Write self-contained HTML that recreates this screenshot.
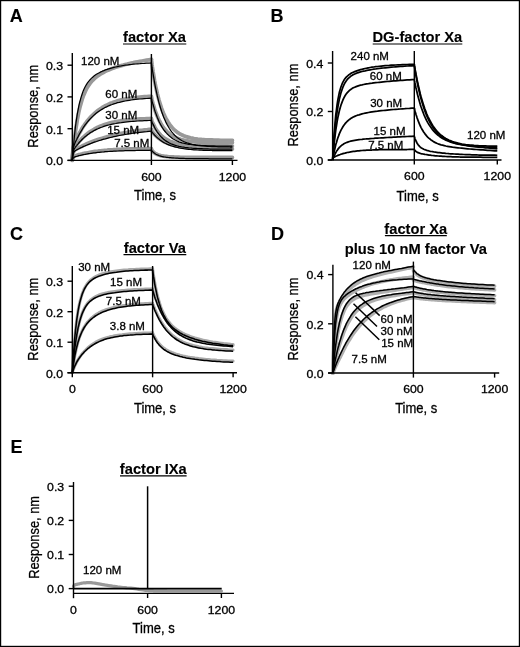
<!DOCTYPE html>
<html><head><meta charset="utf-8"><style>
html,body{margin:0;padding:0;background:#fff;}
svg{display:block;will-change:transform;}
text{font-family:"Liberation Sans", sans-serif;stroke:#000;stroke-width:0.3px;}
</style></head><body>
<svg width="520" height="647" viewBox="0 0 520 647" font-family='"Liberation Sans", sans-serif' fill="#000">
<rect x="0" y="0" width="520" height="647" fill="#fff"/>
<text x="9.8" y="21.8" font-size="18" font-weight="bold" style="stroke-width:0.12px">A</text>
<text x="154.5" y="41.5" font-size="14.7" font-weight="bold" style="stroke-width:0.12px" text-anchor="middle">factor Xa</text>
<line x1="123" y1="44" x2="186.3" y2="44" stroke="#000" stroke-width="1.2"/>
<path d="M72.3 160.4 72.3 159.8 72.5 158.5 72.7 156.4 72.9 153.9 73.2 150.8 73.6 147.4 74 143.8 74.4 139.9 74.9 135.8 75.4 131.7 76 127.6 76.7 123.6 77.3 119.6 78.1 115.7 78.8 112 79.6 108.5 80.5 105.1 81.4 102 82.3 99 83.2 96.3 84.3 93.7 85.3 91.4 86.4 89.2 87.5 87.2 88.7 85.3 89.9 83.6 91.1 82.1 92.4 80.6 93.7 79.3 95 78.1 96.4 76.9 97.8 75.8 99.3 74.8 100.8 73.9 102.3 73 103.8 72.2 105.4 71.4 107.1 70.6 108.7 69.9 110.4 69.2 112.2 68.5 113.9 67.9 115.7 67.3 117.6 66.7 119.4 66.1 121.3 65.6 123.3 65.1 125.2 64.5 127.2 64.1 129.3 63.6 131.3 63.1 133.4 62.7 135.6 62.2 137.7 61.8 139.9 61.4 142.2 61 144.4 60.6 146.7 60.2 149 59.8 151.4 59.4" fill="none" stroke="#999" stroke-width="3.8" stroke-linejoin="round" stroke-linecap="round"/>
<path d="M151.4 59.5 151.5 59.9 151.6 61 151.8 62.5 152 64.4 152.3 66.7 152.7 69.2 153.1 72 153.6 74.9 154.1 77.9 154.6 81 155.2 84.2 155.9 87.3 156.6 90.5 157.3 93.6 158.1 96.7 158.9 99.8 159.8 102.7 160.7 105.6 161.6 108.3 162.6 111 163.6 113.5 164.7 115.9 165.8 118.1 167 120.2 168.2 122.2 169.4 124.1 170.6 125.8 171.9 127.3 173.3 128.8 174.7 130.1 176.1 131.3 177.5 132.4 179 133.4 180.5 134.3 182.1 135 183.7 135.8 185.3 136.4 187 136.9 188.7 137.4 190.4 137.9 192.2 138.2 194 138.6 195.9 138.8 197.7 139.1 199.7 139.3 201.6 139.5 203.6 139.6 205.6 139.8 207.7 139.9 209.7 140 211.9 140 214 140.1 216.2 140.2 218.4 140.2 220.7 140.3 222.9 140.3 225.3 140.3 227.6 140.3 230 140.3 232.4 140.4" fill="none" stroke="#999" stroke-width="3.8" stroke-linejoin="round" stroke-linecap="round"/>
<path d="M72.3 159.4 72.3 158.2 72.5 155.6 72.7 152.6 72.9 149.9 73.2 147.8 73.6 146.2 74 144.8 74.4 143.6 74.9 142.4 75.4 141.1 76 139.8 76.7 138.5 77.3 137.1 78.1 135.6 78.8 134.2 79.6 132.7 80.5 131.2 81.4 129.6 82.3 128.1 83.2 126.6 84.3 125.1 85.3 123.6 86.4 122.2 87.5 120.7 88.7 119.3 89.9 117.9 91.1 116.6 92.4 115.3 93.7 114.1 95 112.9 96.4 111.7 97.8 110.6 99.3 109.5 100.8 108.5 102.3 107.5 103.8 106.6 105.4 105.7 107.1 104.9 108.7 104.1 110.4 103.3 112.2 102.7 113.9 102 115.7 101.5 117.6 100.9 119.4 100.4 121.3 99.9 123.3 99.5 125.2 99.1 127.2 98.8 129.3 98.4 131.3 98.1 133.4 97.8 135.6 97.6 137.7 97.3 139.9 97.1 142.2 96.9 144.4 96.7 146.7 96.6 149 96.4 151.4 96.3" fill="none" stroke="#999" stroke-width="3.8" stroke-linejoin="round" stroke-linecap="round"/>
<path d="M151.4 97.3 151.5 97.5 151.6 98 151.8 98.8 152 99.9 152.3 101.1 152.7 102.5 153.1 104 153.6 105.6 154.1 107.3 154.6 109.1 155.2 110.9 155.9 112.7 156.6 114.5 157.3 116.3 158.1 118.1 158.9 119.8 159.8 121.5 160.7 123.2 161.6 124.8 162.6 126.3 163.6 127.7 164.7 129.1 165.8 130.4 167 131.6 168.2 132.7 169.4 133.7 170.6 134.7 171.9 135.6 173.3 136.4 174.7 137.1 176.1 137.8 177.5 138.4 179 138.9 180.5 139.4 182.1 139.8 183.7 140.2 185.3 140.5 187 140.8 188.7 141.1 190.4 141.3 192.2 141.5 194 141.7 195.9 141.8 197.7 142 199.7 142.1 201.6 142.2 203.6 142.3 205.6 142.3 207.7 142.4 209.7 142.4 211.9 142.5 214 142.5 216.2 142.5 218.4 142.5 220.7 142.6 222.9 142.6 225.3 142.6 227.6 142.6 230 142.6 232.4 142.6" fill="none" stroke="#999" stroke-width="3.8" stroke-linejoin="round" stroke-linecap="round"/>
<path d="M72.3 159.4 72.3 158.5 72.5 156.4 72.7 154.1 72.9 152.1 73.2 150.6 73.6 149.5 74 148.6 74.4 147.8 74.9 147 75.4 146.3 76 145.5 76.7 144.6 77.3 143.7 78.1 142.9 78.8 141.9 79.6 141 80.5 140.1 81.4 139.1 82.3 138.2 83.2 137.3 84.3 136.3 85.3 135.4 86.4 134.5 87.5 133.6 88.7 132.7 89.9 131.9 91.1 131.1 92.4 130.3 93.7 129.5 95 128.7 96.4 128 97.8 127.3 99.3 126.6 100.8 126 102.3 125.4 103.8 124.8 105.4 124.3 107.1 123.8 108.7 123.3 110.4 122.8 112.2 122.4 113.9 122 115.7 121.6 117.6 121.3 119.4 121 121.3 120.7 123.3 120.4 125.2 120.2 127.2 120 129.3 119.8 131.3 119.6 133.4 119.4 135.6 119.3 137.7 119.1 139.9 119 142.2 118.9 144.4 118.8 146.7 118.7 149 118.6 151.4 118.5" fill="none" stroke="#999" stroke-width="3.8" stroke-linejoin="round" stroke-linecap="round"/>
<path d="M151.4 119.5 151.5 119.6 151.6 120 151.8 120.5 152 121.1 152.3 121.9 152.7 122.8 153.1 123.7 153.6 124.7 154.1 125.7 154.6 126.8 155.2 127.8 155.9 128.9 156.6 130 157.3 131 158.1 132 158.9 133 159.8 134 160.7 135 161.6 135.9 162.6 136.7 163.6 137.5 164.7 138.3 165.8 139 167 139.7 168.2 140.3 169.4 140.9 170.6 141.4 171.9 141.9 173.3 142.3 174.7 142.8 176.1 143.1 177.5 143.5 179 143.8 180.5 144 182.1 144.3 183.7 144.5 185.3 144.7 187 144.9 188.7 145 190.4 145.2 192.2 145.3 194 145.4 195.9 145.5 197.7 145.6 199.7 145.6 201.6 145.7 203.6 145.7 205.6 145.8 207.7 145.8 209.7 145.9 211.9 145.9 214 145.9 216.2 146 218.4 146 220.7 146 222.9 146 225.3 146 227.6 146 230 146.1 232.4 146.1" fill="none" stroke="#999" stroke-width="3.8" stroke-linejoin="round" stroke-linecap="round"/>
<path d="M72.3 159.4 72.3 158.8 72.5 157.5 72.7 155.8 72.9 154.3 73.2 152.9 73.6 151.9 74 151.1 74.4 150.5 74.9 150 75.4 149.6 76 149.3 76.7 148.9 77.3 148.5 78.1 148.1 78.8 147.7 79.6 147.3 80.5 146.9 81.4 146.5 82.3 146 83.2 145.6 84.3 145.1 85.3 144.6 86.4 144.1 87.5 143.6 88.7 143.1 89.9 142.6 91.1 142.1 92.4 141.6 93.7 141.1 95 140.6 96.4 140.1 97.8 139.6 99.3 139.1 100.8 138.7 102.3 138.2 103.8 137.7 105.4 137.2 107.1 136.7 108.7 136.3 110.4 135.8 112.2 135.4 113.9 135 115.7 134.5 117.6 134.2 119.4 133.8 121.3 133.4 123.3 133 125.2 132.7 127.2 132.4 129.3 132 131.3 131.7 133.4 131.4 135.6 131.1 137.7 130.8 139.9 130.5 142.2 130.3 144.4 130 146.7 129.8 149 129.5 151.4 129.3" fill="none" stroke="#999" stroke-width="3.8" stroke-linejoin="round" stroke-linecap="round"/>
<path d="M151.4 130.3 151.5 130.3 151.6 130.6 151.8 130.9 152 131.3 152.3 131.7 152.7 132.2 153.1 132.8 153.6 133.3 154.1 134 154.6 134.6 155.2 135.2 155.9 135.8 156.6 136.5 157.3 137.1 158.1 137.8 158.9 138.4 159.8 139 160.7 139.6 161.6 140.2 162.6 140.8 163.6 141.4 164.7 141.9 165.8 142.5 167 143 168.2 143.4 169.4 143.9 170.6 144.3 171.9 144.7 173.3 145.1 174.7 145.5 176.1 145.8 177.5 146.1 179 146.4 180.5 146.6 182.1 146.9 183.7 147.1 185.3 147.3 187 147.5 188.7 147.7 190.4 147.8 192.2 147.9 194 148.1 195.9 148.2 197.7 148.3 199.7 148.4 201.6 148.4 203.6 148.5 205.6 148.6 207.7 148.6 209.7 148.7 211.9 148.7 214 148.8 216.2 148.8 218.4 148.8 220.7 148.8 222.9 148.9 225.3 148.9 227.6 148.9 230 148.9 232.4 148.9" fill="none" stroke="#999" stroke-width="3.8" stroke-linejoin="round" stroke-linecap="round"/>
<path d="M72.3 159.4 72.3 159.2 72.5 158.7 72.7 158.2 72.9 157.6 73.2 157.1 73.6 156.7 74 156.4 74.4 156.1 74.9 155.9 75.4 155.7 76 155.5 76.7 155.3 77.3 155.2 78.1 154.9 78.8 154.7 79.6 154.5 80.5 154.3 81.4 154.1 82.3 153.9 83.2 153.6 84.3 153.4 85.3 153.2 86.4 153 87.5 152.8 88.7 152.6 89.9 152.3 91.1 152.1 92.4 151.9 93.7 151.7 95 151.5 96.4 151.3 97.8 151.2 99.3 151 100.8 150.8 102.3 150.6 103.8 150.5 105.4 150.3 107.1 150.2 108.7 150 110.4 149.9 112.2 149.8 113.9 149.7 115.7 149.6 117.6 149.5 119.4 149.4 121.3 149.3 123.3 149.2 125.2 149.2 127.2 149.1 129.3 149 131.3 149 133.4 148.9 135.6 148.9 137.7 148.9 139.9 148.8 142.2 148.8 144.4 148.7 146.7 148.7 149 148.7 151.4 148.7" fill="none" stroke="#999" stroke-width="3.8" stroke-linejoin="round" stroke-linecap="round"/>
<path d="M151.4 149.6 151.5 149.7 151.6 149.9 151.8 150.1 152 150.5 152.3 150.9 152.7 151.3 153.1 151.7 153.6 152.1 154.1 152.6 154.6 153 155.2 153.4 155.9 153.8 156.6 154.1 157.3 154.5 158.1 154.8 158.9 155.1 159.8 155.3 160.7 155.6 161.6 155.8 162.6 156 163.6 156.1 164.7 156.3 165.8 156.4 167 156.5 168.2 156.7 169.4 156.8 170.6 156.8 171.9 156.9 173.3 157 174.7 157.1 176.1 157.1 177.5 157.2 179 157.2 180.5 157.3 182.1 157.3 183.7 157.3 185.3 157.4 187 157.4 188.7 157.4 190.4 157.4 192.2 157.4 194 157.5 195.9 157.5 197.7 157.5 199.7 157.5 201.6 157.5 203.6 157.5 205.6 157.5 207.7 157.5 209.7 157.5 211.9 157.5 214 157.5 216.2 157.5 218.4 157.5 220.7 157.5 222.9 157.5 225.3 157.5 227.6 157.5 230 157.5 232.4 157.5" fill="none" stroke="#999" stroke-width="3.8" stroke-linejoin="round" stroke-linecap="round"/>
<path d="M72.3 160.4 72.3 159.7 72.5 158.1 72.7 155.6 72.9 152.5 73.2 148.9 73.6 144.9 74 140.6 74.4 136.1 74.9 131.6 75.4 127 76 122.5 76.7 118.1 77.3 113.9 78.1 109.9 78.8 106.1 79.6 102.5 80.5 99.3 81.4 96.2 82.3 93.5 83.2 90.9 84.3 88.6 85.3 86.5 86.4 84.6 87.5 82.9 88.7 81.3 89.9 79.9 91.1 78.6 92.4 77.4 93.7 76.3 95 75.3 96.4 74.3 97.8 73.5 99.3 72.7 100.8 71.9 102.3 71.2 103.8 70.6 105.4 69.9 107.1 69.4 108.7 68.8 110.4 68.3 112.2 67.8 113.9 67.4 115.7 67 117.6 66.6 119.4 66.2 121.3 65.9 123.3 65.5 125.2 65.2 127.2 65 129.3 64.7 131.3 64.5 133.4 64.2 135.6 64 137.7 63.8 139.9 63.7 142.2 63.5 144.4 63.4 146.7 63.2 149 63.1 151.4 63" fill="none" stroke="#000" stroke-width="1.25" stroke-linejoin="round"/>
<path d="M151.4 63 151.5 63.3 151.6 64.2 151.8 65.5 152 67.2 152.3 69.3 152.7 71.6 153.1 74.1 153.6 76.9 154.1 79.9 154.6 82.9 155.2 86.1 155.9 89.3 156.6 92.6 157.3 95.9 158.1 99.1 158.9 102.3 159.8 105.5 160.7 108.5 161.6 111.5 162.6 114.3 163.6 117 164.7 119.6 165.8 122.1 167 124.4 168.2 126.5 169.4 128.5 170.6 130.4 171.9 132.1 173.3 133.7 174.7 135.2 176.1 136.5 177.5 137.7 179 138.8 180.5 139.8 182.1 140.7 183.7 141.5 185.3 142.2 187 142.9 188.7 143.4 190.4 143.9 192.2 144.4 194 144.7 195.9 145.1 197.7 145.4 199.7 145.6 201.6 145.8 203.6 146 205.6 146.2 207.7 146.3 209.7 146.5 211.9 146.6 214 146.6 216.2 146.7 218.4 146.8 220.7 146.8 222.9 146.9 225.3 146.9 227.6 146.9 230 147 232.4 147" fill="none" stroke="#000" stroke-width="1.25" stroke-linejoin="round"/>
<path d="M72.3 160.4 72.3 159.1 72.5 156.5 72.7 153.5 72.9 150.9 73.2 148.8 73.6 147.2 74 145.8 74.4 144.6 74.9 143.3 75.4 142.1 76 140.8 76.7 139.5 77.3 138.1 78.1 136.6 78.8 135.2 79.6 133.7 80.5 132.2 81.4 130.7 82.3 129.2 83.2 127.7 84.3 126.2 85.3 124.7 86.4 123.3 87.5 121.9 88.7 120.5 89.9 119.2 91.1 117.9 92.4 116.6 93.7 115.4 95 114.2 96.4 113.1 97.8 112 99.3 111 100.8 110 102.3 109.1 103.8 108.2 105.4 107.3 107.1 106.6 108.7 105.8 110.4 105.1 112.2 104.5 113.9 103.8 115.7 103.3 117.6 102.7 119.4 102.3 121.3 101.8 123.3 101.4 125.2 101 127.2 100.6 129.3 100.3 131.3 100 133.4 99.7 135.6 99.4 137.7 99.2 139.9 99 142.2 98.8 144.4 98.6 146.7 98.5 149 98.3 151.4 98.2" fill="none" stroke="#000" stroke-width="1.25" stroke-linejoin="round"/>
<path d="M151.4 98.2 151.5 98.4 151.6 98.9 151.8 99.7 152 100.7 152.3 101.9 152.7 103.3 153.1 104.8 153.6 106.4 154.1 108.1 154.6 109.9 155.2 111.7 155.9 113.6 156.6 115.5 157.3 117.4 158.1 119.3 158.9 121.2 159.8 123 160.7 124.7 161.6 126.4 162.6 128 163.6 129.6 164.7 131 165.8 132.4 167 133.7 168.2 134.9 169.4 136.1 170.6 137.1 171.9 138.1 173.3 139 174.7 139.8 176.1 140.5 177.5 141.2 179 141.8 180.5 142.3 182.1 142.8 183.7 143.2 185.3 143.6 187 144 188.7 144.3 190.4 144.5 192.2 144.7 194 144.9 195.9 145.1 197.7 145.3 199.7 145.4 201.6 145.5 203.6 145.6 205.6 145.7 207.7 145.8 209.7 145.8 211.9 145.9 214 145.9 216.2 146 218.4 146 220.7 146 222.9 146 225.3 146 227.6 146.1 230 146.1 232.4 146.1" fill="none" stroke="#000" stroke-width="1.25" stroke-linejoin="round"/>
<path d="M72.3 160.4 72.3 159.4 72.5 157.3 72.7 155.1 72.9 153.1 73.2 151.6 73.6 150.4 74 149.5 74.4 148.8 74.9 148 75.4 147.2 76 146.4 76.7 145.6 77.3 144.7 78.1 143.9 78.8 143 79.6 142 80.5 141.1 81.4 140.2 82.3 139.3 83.2 138.4 84.3 137.4 85.3 136.5 86.4 135.7 87.5 134.8 88.7 134 89.9 133.1 91.1 132.3 92.4 131.6 93.7 130.8 95 130.1 96.4 129.4 97.8 128.8 99.3 128.1 100.8 127.5 102.3 127 103.8 126.4 105.4 125.9 107.1 125.4 108.7 125 110.4 124.6 112.2 124.2 113.9 123.8 115.7 123.5 117.6 123.1 119.4 122.8 121.3 122.6 123.3 122.3 125.2 122.1 127.2 121.9 129.3 121.7 131.3 121.5 133.4 121.3 135.6 121.2 137.7 121 139.9 120.9 142.2 120.8 144.4 120.7 146.7 120.6 149 120.5 151.4 120.4" fill="none" stroke="#000" stroke-width="1.25" stroke-linejoin="round"/>
<path d="M151.4 120.4 151.5 120.5 151.6 120.9 151.8 121.3 152 121.9 152.3 122.7 152.7 123.5 153.1 124.4 153.6 125.4 154.1 126.4 154.6 127.5 155.2 128.6 155.9 129.8 156.6 130.9 157.3 132 158.1 133.1 158.9 134.2 159.8 135.3 160.7 136.4 161.6 137.3 162.6 138.3 163.6 139.2 164.7 140.1 165.8 140.9 167 141.6 168.2 142.3 169.4 143 170.6 143.6 171.9 144.2 173.3 144.7 174.7 145.2 176.1 145.6 177.5 146 179 146.4 180.5 146.7 182.1 147 183.7 147.2 185.3 147.5 187 147.7 188.7 147.9 190.4 148 192.2 148.2 194 148.3 195.9 148.4 197.7 148.5 199.7 148.6 201.6 148.7 203.6 148.8 205.6 148.9 207.7 148.9 209.7 149 211.9 149 214 149 216.2 149.1 218.4 149.1 220.7 149.1 222.9 149.2 225.3 149.2 227.6 149.2 230 149.2 232.4 149.2" fill="none" stroke="#000" stroke-width="1.25" stroke-linejoin="round"/>
<path d="M72.3 160.4 72.3 159.8 72.5 158.4 72.7 156.8 72.9 155.2 73.2 153.9 73.6 152.8 74 152 74.4 151.5 74.9 151 75.4 150.6 76 150.3 76.7 149.9 77.3 149.5 78.1 149.2 78.8 148.8 79.6 148.4 80.5 147.9 81.4 147.5 82.3 147.1 83.2 146.6 84.3 146.2 85.3 145.7 86.4 145.3 87.5 144.8 88.7 144.3 89.9 143.8 91.1 143.4 92.4 142.9 93.7 142.4 95 141.9 96.4 141.5 97.8 141 99.3 140.5 100.8 140.1 102.3 139.6 103.8 139.2 105.4 138.8 107.1 138.3 108.7 137.9 110.4 137.5 112.2 137.1 113.9 136.7 115.7 136.3 117.6 135.9 119.4 135.5 121.3 135.2 123.3 134.8 125.2 134.5 127.2 134.2 129.3 133.8 131.3 133.5 133.4 133.2 135.6 132.9 137.7 132.7 139.9 132.4 142.2 132.1 144.4 131.9 146.7 131.7 149 131.4 151.4 131.2" fill="none" stroke="#000" stroke-width="1.25" stroke-linejoin="round"/>
<path d="M151.4 131.2 151.5 131.3 151.6 131.4 151.8 131.7 152 132 152.3 132.4 152.7 132.9 153.1 133.4 153.6 133.9 154.1 134.5 154.6 135.1 155.2 135.7 155.9 136.4 156.6 137.1 157.3 137.7 158.1 138.4 158.9 139.1 159.8 139.8 160.7 140.4 161.6 141.1 162.6 141.7 163.6 142.4 164.7 143 165.8 143.5 167 144.1 168.2 144.6 169.4 145.1 170.6 145.6 171.9 146 173.3 146.4 174.7 146.8 176.1 147.2 177.5 147.5 179 147.9 180.5 148.2 182.1 148.4 183.7 148.7 185.3 148.9 187 149.1 188.7 149.3 190.4 149.5 192.2 149.6 194 149.8 195.9 149.9 197.7 150 199.7 150.1 201.6 150.2 203.6 150.3 205.6 150.3 207.7 150.4 209.7 150.4 211.9 150.5 214 150.5 216.2 150.6 218.4 150.6 220.7 150.6 222.9 150.7 225.3 150.7 227.6 150.7 230 150.7 232.4 150.7" fill="none" stroke="#000" stroke-width="1.25" stroke-linejoin="round"/>
<path d="M72.3 160.4 72.3 160.2 72.5 159.7 72.7 159.1 72.9 158.5 73.2 158.1 73.6 157.7 74 157.4 74.4 157.1 74.9 156.9 75.4 156.7 76 156.5 76.7 156.3 77.3 156.1 78.1 155.9 78.8 155.7 79.6 155.5 80.5 155.3 81.4 155.1 82.3 154.9 83.2 154.7 84.3 154.5 85.3 154.3 86.4 154.1 87.5 153.9 88.7 153.7 89.9 153.5 91.1 153.3 92.4 153.1 93.7 152.9 95 152.8 96.4 152.6 97.8 152.4 99.3 152.3 100.8 152.1 102.3 152 103.8 151.9 105.4 151.7 107.1 151.6 108.7 151.5 110.4 151.4 112.2 151.3 113.9 151.2 115.7 151.1 117.6 151 119.4 150.9 121.3 150.9 123.3 150.8 125.2 150.7 127.2 150.7 129.3 150.6 131.3 150.6 133.4 150.5 135.6 150.5 137.7 150.4 139.9 150.4 142.2 150.4 144.4 150.3 146.7 150.3 149 150.3 151.4 150.2" fill="none" stroke="#000" stroke-width="1.25" stroke-linejoin="round"/>
<path d="M151.4 150.2 151.5 150.3 151.6 150.5 151.8 150.7 152 151 152.3 151.3 152.7 151.7 153.1 152.1 153.6 152.5 154.1 152.9 154.6 153.3 155.2 153.8 155.9 154.2 156.6 154.5 157.3 154.9 158.1 155.2 158.9 155.5 159.8 155.8 160.7 156.1 161.6 156.4 162.6 156.6 163.6 156.8 164.7 157 165.8 157.2 167 157.3 168.2 157.5 169.4 157.6 170.6 157.7 171.9 157.8 173.3 157.9 174.7 158 176.1 158.1 177.5 158.2 179 158.3 180.5 158.3 182.1 158.4 183.7 158.4 185.3 158.5 187 158.5 188.7 158.5 190.4 158.6 192.2 158.6 194 158.6 195.9 158.7 197.7 158.7 199.7 158.7 201.6 158.7 203.6 158.7 205.6 158.7 207.7 158.7 209.7 158.8 211.9 158.8 214 158.8 216.2 158.8 218.4 158.8 220.7 158.8 222.9 158.8 225.3 158.8 227.6 158.8 230 158.8 232.4 158.8" fill="none" stroke="#000" stroke-width="1.25" stroke-linejoin="round"/>
<line x1="151.4" y1="54" x2="151.4" y2="160.4" stroke="#000" stroke-width="1.4"/>
<line x1="72.3" y1="53" x2="72.3" y2="160.4" stroke="#000" stroke-width="1.4"/>
<line x1="67.5" y1="160.4" x2="72.3" y2="160.4" stroke="#000" stroke-width="1.4"/>
<text transform="translate(63 165.2) scale(1.09 1)" font-size="11.3" text-anchor="end">0.0</text>
<line x1="67.5" y1="128.7" x2="72.3" y2="128.7" stroke="#000" stroke-width="1.4"/>
<text transform="translate(63 133.5) scale(1.09 1)" font-size="11.3" text-anchor="end">0.1</text>
<line x1="67.5" y1="96.9" x2="72.3" y2="96.9" stroke="#000" stroke-width="1.4"/>
<text transform="translate(63 101.7) scale(1.09 1)" font-size="11.3" text-anchor="end">0.2</text>
<line x1="67.5" y1="65.2" x2="72.3" y2="65.2" stroke="#000" stroke-width="1.4"/>
<text transform="translate(63 70) scale(1.09 1)" font-size="11.3" text-anchor="end">0.3</text>
<line x1="67.5" y1="160.4" x2="237.5" y2="160.4" stroke="#000" stroke-width="1.4"/>
<line x1="151.4" y1="160.4" x2="151.4" y2="165" stroke="#000" stroke-width="1.4"/>
<text transform="translate(151.4 180.5) scale(1.09 1)" font-size="11.3" text-anchor="middle">600</text>
<line x1="232.4" y1="160.4" x2="232.4" y2="165" stroke="#000" stroke-width="1.4"/>
<text transform="translate(232.4 180.5) scale(1.09 1)" font-size="11.3" text-anchor="middle">1200</text>
<text x="81" y="64.5" font-size="11.5">120 nM</text>
<text x="105.3" y="97.5" font-size="11.5">60 nM</text>
<text x="105.3" y="119.3" font-size="11.5">30 nM</text>
<text x="107.2" y="134" font-size="11.5">15 nM</text>
<text x="114.2" y="147.2" font-size="11.5">7.5 nM</text>
<text transform="translate(155 200.1) scale(0.93 1)" font-size="14" text-anchor="middle">Time, s</text>
<text transform="translate(38.1 106.2) rotate(-90) scale(0.83 1)" font-size="15.5" text-anchor="middle">Response, nm</text>
<text x="270.5" y="21.9" font-size="18" font-weight="bold" style="stroke-width:0.12px">B</text>
<text x="417.4" y="41.8" font-size="14.7" font-weight="bold" style="stroke-width:0.12px" text-anchor="middle">DG-factor Xa</text>
<line x1="372.7" y1="44" x2="462.3" y2="44" stroke="#000" stroke-width="1.2"/>
<path d="M332.6 160 332.7 159 332.8 156.5 333 152.8 333.2 148.3 333.5 143.2 333.9 137.6 334.3 131.8 334.8 126 335.3 120.2 335.8 114.7 336.5 109.5 337.1 104.6 337.8 100.2 338.6 96.2 339.3 92.6 340.2 89.4 341 86.7 342 84.2 342.9 82.2 343.9 80.3 344.9 78.8 346 77.4 347.1 76.3 348.3 75.3 349.5 74.4 350.7 73.6 352 72.8 353.3 72.2 354.7 71.6 356.1 71.1 357.5 70.6 359 70.1 360.5 69.7 362 69.3 363.6 68.9 365.2 68.5 366.8 68.2 368.5 67.8 370.2 67.5 372 67.2 373.8 67 375.6 66.7 377.5 66.5 379.3 66.3 381.3 66.1 383.2 65.9 385.2 65.7 387.3 65.5 389.3 65.4 391.4 65.2 393.6 65.1 395.7 65 398 64.9 400.2 64.8 402.5 64.7 404.8 64.6 407.1 64.5 409.5 64.4 411.9 64.4 414.3 64.3" fill="none" stroke="#000" stroke-width="1.75" stroke-linejoin="round"/>
<path d="M414.3 64.3 414.4 64.6 414.5 65.4 414.7 66.6 414.9 68.1 415.2 69.9 415.6 71.9 416 74.2 416.5 76.7 417 79.4 417.6 82.1 418.2 85 418.9 88 419.6 91 420.3 94 421.1 97 422 100 422.9 103 423.8 105.8 424.8 108.7 425.8 111.4 426.8 114 427.9 116.6 429.1 119 430.3 121.3 431.5 123.4 432.7 125.5 434 127.4 435.4 129.2 436.7 130.8 438.1 132.4 439.6 133.8 441.1 135.1 442.6 136.3 444.2 137.4 445.8 138.4 447.4 139.3 449.1 140.2 450.8 140.9 452.5 141.6 454.3 142.2 456.1 142.7 458 143.2 459.9 143.6 461.8 144 463.8 144.3 465.7 144.6 467.8 144.8 469.8 145 471.9 145.2 474.1 145.4 476.2 145.5 478.5 145.7 480.7 145.8 483 145.9 485.3 145.9 487.6 146 490 146.1 492.4 146.1 494.8 146.2 497.3 146.2" fill="none" stroke="#000" stroke-width="1.75" stroke-linejoin="round"/>
<path d="M332.6 160 332.7 159.2 332.8 157.2 333 154.3 333.2 150.7 333.5 146.5 333.9 141.8 334.3 136.9 334.8 131.8 335.3 126.6 335.8 121.5 336.5 116.6 337.1 111.8 337.8 107.3 338.6 103.1 339.3 99.3 340.2 95.8 341 92.6 342 89.7 342.9 87.2 343.9 84.9 344.9 82.9 346 81.2 347.1 79.7 348.3 78.4 349.5 77.3 350.7 76.3 352 75.4 353.3 74.6 354.7 74 356.1 73.4 357.5 72.8 359 72.3 360.5 71.9 362 71.5 363.6 71.1 365.2 70.8 366.8 70.4 368.5 70.1 370.2 69.8 372 69.5 373.8 69.2 375.6 69 377.5 68.7 379.3 68.5 381.3 68.2 383.2 68 385.2 67.8 387.3 67.6 389.3 67.4 391.4 67.2 393.6 67 395.7 66.8 398 66.7 400.2 66.5 402.5 66.3 404.8 66.2 407.1 66 409.5 65.9 411.9 65.8 414.3 65.7" fill="none" stroke="#000" stroke-width="1.75" stroke-linejoin="round"/>
<path d="M414.3 65.7 414.4 66 414.5 66.8 414.7 68 414.9 69.6 415.2 71.4 415.6 73.6 416 75.9 416.5 78.5 417 81.2 417.6 84 418.2 87 418.9 90 419.6 93 420.3 96 421.1 99.1 422 102.1 422.9 105 423.8 107.9 424.8 110.7 425.8 113.4 426.8 116 427.9 118.4 429.1 120.8 430.3 123 431.5 125.1 432.7 127 434 128.9 435.4 130.6 436.7 132.1 438.1 133.6 439.6 134.9 441.1 136.2 442.6 137.3 444.2 138.3 445.8 139.3 447.4 140.1 449.1 140.9 450.8 141.6 452.5 142.2 454.3 142.8 456.1 143.3 458 143.7 459.9 144.1 461.8 144.5 463.8 144.9 465.7 145.2 467.8 145.4 469.8 145.7 471.9 145.9 474.1 146.1 476.2 146.3 478.5 146.5 480.7 146.7 483 146.8 485.3 147 487.6 147.1 490 147.2 492.4 147.4 494.8 147.5 497.3 147.6" fill="none" stroke="#000" stroke-width="1.75" stroke-linejoin="round"/>
<path d="M332.6 160 332.7 159.4 332.8 157.9 333 155.7 333.2 152.9 333.5 149.6 333.9 146 334.3 142.1 334.8 138.1 335.3 133.9 335.8 129.8 336.5 125.7 337.1 121.7 337.8 117.9 338.6 114.3 339.3 111 340.2 107.8 341 105 342 102.4 342.9 100 343.9 97.9 344.9 96 346 94.3 347.1 92.9 348.3 91.6 349.5 90.4 350.7 89.5 352 88.6 353.3 87.8 354.7 87.2 356.1 86.6 357.5 86.1 359 85.6 360.5 85.2 362 84.9 363.6 84.5 365.2 84.2 366.8 83.9 368.5 83.7 370.2 83.4 372 83.2 373.8 82.9 375.6 82.7 377.5 82.5 379.3 82.3 381.3 82.1 383.2 81.9 385.2 81.7 387.3 81.5 389.3 81.3 391.4 81.1 393.6 80.9 395.7 80.8 398 80.6 400.2 80.4 402.5 80.3 404.8 80.1 407.1 79.9 409.5 79.8 411.9 79.6 414.3 79.5" fill="none" stroke="#000" stroke-width="1.75" stroke-linejoin="round"/>
<path d="M414.3 79.5 414.4 79.8 414.5 80.4 414.7 81.4 414.9 82.7 415.2 84.3 415.6 86 416 88 416.5 90.1 417 92.3 417.6 94.7 418.2 97.1 418.9 99.6 419.6 102.1 420.3 104.6 421.1 107 422 109.5 422.9 111.9 423.8 114.3 424.8 116.6 425.8 118.8 426.8 120.9 427.9 122.9 429.1 124.8 430.3 126.6 431.5 128.3 432.7 129.9 434 131.4 435.4 132.8 436.7 134.1 438.1 135.3 439.6 136.4 441.1 137.4 442.6 138.4 444.2 139.3 445.8 140.1 447.4 140.8 449.1 141.5 450.8 142.1 452.5 142.6 454.3 143.1 456.1 143.6 458 144.1 459.9 144.5 461.8 144.8 463.8 145.2 465.7 145.5 467.8 145.8 469.8 146.1 471.9 146.4 474.1 146.6 476.2 146.9 478.5 147.1 480.7 147.3 483 147.5 485.3 147.8 487.6 148 490 148.2 492.4 148.4 494.8 148.6 497.3 148.8" fill="none" stroke="#000" stroke-width="1.75" stroke-linejoin="round"/>
<path d="M332.6 160 332.7 159.7 332.8 159 333 157.9 333.2 156.5 333.5 154.9 333.9 153.1 334.3 151.1 334.8 149 335.3 146.8 335.8 144.6 336.5 142.4 337.1 140.2 337.8 138 338.6 135.9 339.3 133.9 340.2 131.9 341 130.1 342 128.4 342.9 126.8 343.9 125.3 344.9 123.9 346 122.6 347.1 121.5 348.3 120.4 349.5 119.4 350.7 118.6 352 117.8 353.3 117 354.7 116.4 356.1 115.8 357.5 115.2 359 114.8 360.5 114.3 362 113.9 363.6 113.5 365.2 113.1 366.8 112.8 368.5 112.5 370.2 112.2 372 111.9 373.8 111.6 375.6 111.4 377.5 111.2 379.3 110.9 381.3 110.7 383.2 110.5 385.2 110.3 387.3 110.1 389.3 109.9 391.4 109.7 393.6 109.5 395.7 109.3 398 109.2 400.2 109 402.5 108.8 404.8 108.7 407.1 108.5 409.5 108.4 411.9 108.2 414.3 108.1" fill="none" stroke="#000" stroke-width="1.75" stroke-linejoin="round"/>
<path d="M414.3 108.1 414.4 108.3 414.5 108.8 414.7 109.6 414.9 110.5 415.2 111.7 415.6 113 416 114.4 416.5 116 417 117.6 417.6 119.2 418.2 120.9 418.9 122.6 419.6 124.3 420.3 126 421.1 127.6 422 129.2 422.9 130.7 423.8 132.2 424.8 133.6 425.8 134.9 426.8 136.1 427.9 137.3 429.1 138.4 430.3 139.3 431.5 140.3 432.7 141.1 434 141.9 435.4 142.6 436.7 143.2 438.1 143.8 439.6 144.3 441.1 144.8 442.6 145.2 444.2 145.6 445.8 146 447.4 146.3 449.1 146.6 450.8 146.9 452.5 147.2 454.3 147.4 456.1 147.6 458 147.8 459.9 148 461.8 148.2 463.8 148.4 465.7 148.6 467.8 148.8 469.8 149 471.9 149.1 474.1 149.3 476.2 149.5 478.5 149.6 480.7 149.8 483 149.9 485.3 150.1 487.6 150.3 490 150.4 492.4 150.6 494.8 150.8 497.3 150.9" fill="none" stroke="#000" stroke-width="1.75" stroke-linejoin="round"/>
<path d="M332.6 160 332.7 159.8 332.8 159.5 333 158.9 333.2 158.3 333.5 157.5 333.9 156.6 334.3 155.6 334.8 154.6 335.3 153.5 335.8 152.5 336.5 151.4 337.1 150.4 337.8 149.4 338.6 148.4 339.3 147.5 340.2 146.7 341 145.9 342 145.1 342.9 144.5 343.9 143.8 344.9 143.3 346 142.8 347.1 142.3 348.3 141.9 349.5 141.5 350.7 141.2 352 140.9 353.3 140.6 354.7 140.3 356.1 140.1 357.5 139.9 359 139.7 360.5 139.5 362 139.4 363.6 139.2 365.2 139 366.8 138.9 368.5 138.8 370.2 138.6 372 138.5 373.8 138.4 375.6 138.2 377.5 138.1 379.3 138 381.3 137.9 383.2 137.8 385.2 137.6 387.3 137.5 389.3 137.4 391.4 137.3 393.6 137.2 395.7 137.1 398 136.9 400.2 136.8 402.5 136.7 404.8 136.6 407.1 136.5 409.5 136.4 411.9 136.3 414.3 136.2" fill="none" stroke="#000" stroke-width="1.75" stroke-linejoin="round"/>
<path d="M414.3 136.2 414.4 136.4 414.5 136.8 414.7 137.4 414.9 138.2 415.2 139.1 415.6 140 416 141 416.5 142 417 143 417.6 143.9 418.2 144.8 418.9 145.6 419.6 146.4 420.3 147.1 421.1 147.7 422 148.3 422.9 148.8 423.8 149.3 424.8 149.7 425.8 150 426.8 150.4 427.9 150.7 429.1 151 430.3 151.3 431.5 151.5 432.7 151.7 434 152 435.4 152.2 436.7 152.4 438.1 152.6 439.6 152.7 441.1 152.9 442.6 153.1 444.2 153.2 445.8 153.4 447.4 153.5 449.1 153.7 450.8 153.8 452.5 153.9 454.3 154 456.1 154.1 458 154.2 459.9 154.3 461.8 154.4 463.8 154.5 465.7 154.6 467.8 154.7 469.8 154.7 471.9 154.8 474.1 154.9 476.2 154.9 478.5 155 480.7 155 483 155.1 485.3 155.1 487.6 155.1 490 155.2 492.4 155.2 494.8 155.2 497.3 155.3" fill="none" stroke="#000" stroke-width="1.75" stroke-linejoin="round"/>
<path d="M332.6 160 332.7 159.6 332.8 158.8 333 158.2 333.2 157.8 333.5 157.5 333.9 157.3 334.3 157.1 334.8 156.8 335.3 156.6 335.8 156.3 336.5 156 337.1 155.7 337.8 155.4 338.6 155.1 339.3 154.8 340.2 154.5 341 154.2 342 153.9 342.9 153.6 343.9 153.3 344.9 153.1 346 152.8 347.1 152.5 348.3 152.3 349.5 152.1 350.7 151.8 352 151.6 353.3 151.4 354.7 151.3 356.1 151.1 357.5 150.9 359 150.8 360.5 150.6 362 150.5 363.6 150.4 365.2 150.3 366.8 150.2 368.5 150.1 370.2 150 372 150 373.8 149.9 375.6 149.8 377.5 149.8 379.3 149.7 381.3 149.7 383.2 149.7 385.2 149.6 387.3 149.6 389.3 149.6 391.4 149.5 393.6 149.5 395.7 149.5 398 149.5 400.2 149.5 402.5 149.5 404.8 149.5 407.1 149.5 409.5 149.4 411.9 149.4 414.3 149.4" fill="none" stroke="#000" stroke-width="1.75" stroke-linejoin="round"/>
<path d="M414.3 149.4 414.4 149.5 414.5 149.7 414.7 150 414.9 150.4 415.2 150.7 415.6 151.1 416 151.5 416.5 151.8 417 152.1 417.6 152.4 418.2 152.7 418.9 152.9 419.6 153.2 420.3 153.4 421.1 153.6 422 153.8 422.9 154 423.8 154.2 424.8 154.4 425.8 154.5 426.8 154.7 427.9 154.9 429.1 155.1 430.3 155.2 431.5 155.4 432.7 155.5 434 155.6 435.4 155.8 436.7 155.9 438.1 156 439.6 156.1 441.1 156.2 442.6 156.3 444.2 156.4 445.8 156.5 447.4 156.6 449.1 156.7 450.8 156.7 452.5 156.8 454.3 156.8 456.1 156.9 458 156.9 459.9 157 461.8 157 463.8 157.1 465.7 157.1 467.8 157.1 469.8 157.1 471.9 157.2 474.1 157.2 476.2 157.2 478.5 157.2 480.7 157.2 483 157.3 485.3 157.3 487.6 157.3 490 157.3 492.4 157.3 494.8 157.3 497.3 157.3" fill="none" stroke="#000" stroke-width="1.75" stroke-linejoin="round"/>
<line x1="414.3" y1="51" x2="414.3" y2="160" stroke="#000" stroke-width="1.4"/>
<line x1="332.6" y1="51" x2="332.6" y2="160" stroke="#000" stroke-width="1.4"/>
<line x1="327.8" y1="160" x2="332.6" y2="160" stroke="#000" stroke-width="1.4"/>
<text transform="translate(323.3 164.8) scale(1.09 1)" font-size="11.3" text-anchor="end">0.0</text>
<line x1="327.8" y1="111.5" x2="332.6" y2="111.5" stroke="#000" stroke-width="1.4"/>
<text transform="translate(323.3 116.3) scale(1.09 1)" font-size="11.3" text-anchor="end">0.2</text>
<line x1="327.8" y1="63" x2="332.6" y2="63" stroke="#000" stroke-width="1.4"/>
<text transform="translate(323.3 67.8) scale(1.09 1)" font-size="11.3" text-anchor="end">0.4</text>
<line x1="327.8" y1="160" x2="501.5" y2="160" stroke="#000" stroke-width="1.4"/>
<line x1="414.3" y1="160" x2="414.3" y2="164.6" stroke="#000" stroke-width="1.4"/>
<text transform="translate(414.3 180.1) scale(1.09 1)" font-size="11.3" text-anchor="middle">600</text>
<line x1="497.3" y1="160" x2="497.3" y2="164.6" stroke="#000" stroke-width="1.4"/>
<text transform="translate(497.3 180.1) scale(1.09 1)" font-size="11.3" text-anchor="middle">1200</text>
<text x="350.6" y="59.8" font-size="11.5">240 nM</text>
<text x="369.8" y="80" font-size="11.5">60 nM</text>
<text x="370.2" y="106.5" font-size="11.5">30 nM</text>
<text x="373.5" y="134.8" font-size="11.5">15 nM</text>
<text x="368.2" y="148.5" font-size="11.5">7.5 nM</text>
<text x="467" y="139" font-size="11.5">120 nM</text>
<text transform="translate(417.6 200.6) scale(0.93 1)" font-size="14" text-anchor="middle">Time, s</text>
<text transform="translate(298.1 105.1) rotate(-90) scale(0.83 1)" font-size="15.5" text-anchor="middle">Response, nm</text>
<text x="10" y="239.8" font-size="18" font-weight="bold" style="stroke-width:0.12px">C</text>
<text x="154.8" y="252.6" font-size="14.7" font-weight="bold" style="stroke-width:0.12px" text-anchor="middle">factor Va</text>
<line x1="123.5" y1="254.6" x2="186.3" y2="254.6" stroke="#000" stroke-width="1.2"/>
<path d="M72.3 372.7 72.4 371.8 72.5 369.6 72.7 366.4 72.9 362.4 73.2 357.8 73.6 352.7 74 347.3 74.4 341.7 74.9 336.1 75.5 330.5 76.1 325.2 76.7 320 77.4 315.1 78.1 310.6 78.9 306.4 79.7 302.6 80.6 299.1 81.5 296 82.4 293.2 83.4 290.7 84.4 288.4 85.5 286.5 86.6 284.7 87.7 283.2 88.9 281.8 90.1 280.5 91.4 279.4 92.7 278.5 94 277.6 95.4 276.7 96.8 276 98.2 275.3 99.7 274.7 101.2 274.2 102.7 273.7 104.3 273.2 105.9 272.8 107.6 272.5 109.3 272.1 111 271.8 112.8 271.5 114.6 271.2 116.4 270.9 118.2 270.7 120.1 270.5 122.1 270.3 124 270.1 126 269.9 128.1 269.8 130.1 269.6 132.2 269.5 134.4 269.4 136.5 269.3 138.7 269.2 141 269.1 143.2 269 145.5 268.9 147.8 268.9 150.2 268.8 152.6 268.7" fill="none" stroke="#aaa" stroke-width="3.0" stroke-linejoin="round" stroke-linecap="round"/>
<path d="M152.6 268.7 152.7 269.1 152.8 270 153 271.4 153.2 273.1 153.5 275.1 153.9 277.4 154.3 279.9 154.7 282.6 155.2 285.3 155.8 288.2 156.4 291 157 293.9 157.7 296.7 158.5 299.4 159.2 302.1 160.1 304.7 160.9 307.2 161.8 309.5 162.8 311.7 163.7 313.8 164.8 315.8 165.8 317.7 166.9 319.4 168.1 321 169.3 322.5 170.5 324 171.7 325.3 173 326.5 174.3 327.7 175.7 328.8 177.1 329.8 178.6 330.8 180 331.7 181.6 332.5 183.1 333.3 184.7 334.1 186.3 334.8 188 335.5 189.7 336.2 191.4 336.8 193.2 337.4 195 338 196.8 338.5 198.7 339 200.6 339.5 202.5 340 204.5 340.4 206.5 340.8 208.5 341.2 210.6 341.6 212.7 342 214.8 342.3 217 342.6 219.2 342.9 221.4 343.2 223.7 343.5 226 343.7 228.3 343.9 230.7 344.2 233.1 344.4" fill="none" stroke="#aaa" stroke-width="3.0" stroke-linejoin="round" stroke-linecap="round"/>
<path d="M72.3 372.7 72.4 372.1 72.5 370.6 72.7 368.5 72.9 365.8 73.2 362.6 73.6 359.1 74 355.3 74.4 351.3 74.9 347.2 75.5 343.1 76.1 339.1 76.7 335.1 77.4 331.3 78.1 327.6 78.9 324.2 79.7 320.9 80.6 317.9 81.5 315.2 82.4 312.6 83.4 310.3 84.4 308.2 85.5 306.3 86.6 304.6 87.7 303.1 88.9 301.7 90.1 300.5 91.4 299.4 92.7 298.4 94 297.5 95.4 296.7 96.8 296 98.2 295.3 99.7 294.7 101.2 294.2 102.7 293.8 104.3 293.4 105.9 293 107.6 292.6 109.3 292.3 111 292 112.8 291.7 114.6 291.4 116.4 291.2 118.2 291 120.1 290.8 122.1 290.6 124 290.4 126 290.2 128.1 290 130.1 289.9 132.2 289.7 134.4 289.6 136.5 289.5 138.7 289.4 141 289.3 143.2 289.2 145.5 289.1 147.8 289 150.2 288.9 152.6 288.9" fill="none" stroke="#aaa" stroke-width="3.0" stroke-linejoin="round" stroke-linecap="round"/>
<path d="M152.6 288.9 152.7 289 152.8 289.5 153 290.1 153.2 290.9 153.5 291.9 153.9 293 154.3 294.3 154.7 295.7 155.2 297.2 155.8 298.8 156.4 300.4 157 302.1 157.7 303.8 158.5 305.6 159.2 307.4 160.1 309.2 160.9 311 161.8 312.8 162.8 314.5 163.7 316.2 164.8 317.9 165.8 319.6 166.9 321.2 168.1 322.7 169.3 324.2 170.5 325.6 171.7 327 173 328.3 174.3 329.5 175.7 330.7 177.1 331.8 178.6 332.8 180 333.8 181.6 334.7 183.1 335.6 184.7 336.4 186.3 337.1 188 337.8 189.7 338.5 191.4 339.1 193.2 339.7 195 340.2 196.8 340.7 198.7 341.1 200.6 341.5 202.5 341.9 204.5 342.3 206.5 342.6 208.5 343 210.6 343.3 212.7 343.5 214.8 343.8 217 344 219.2 344.3 221.4 344.5 223.7 344.7 226 344.9 228.3 345.1 230.7 345.3 233.1 345.5" fill="none" stroke="#aaa" stroke-width="3.0" stroke-linejoin="round" stroke-linecap="round"/>
<path d="M72.3 372.7 72.4 372.3 72.5 371.3 72.7 369.9 72.9 368 73.2 365.9 73.6 363.5 74 360.9 74.4 358.2 74.9 355.4 75.5 352.6 76.1 349.7 76.7 347 77.4 344.3 78.1 341.7 78.9 339.1 79.7 336.8 80.6 334.5 81.5 332.4 82.4 330.4 83.4 328.5 84.4 326.7 85.5 325 86.6 323.5 87.7 322 88.9 320.7 90.1 319.4 91.4 318.2 92.7 317.1 94 316 95.4 315 96.8 314 98.2 313.2 99.7 312.3 101.2 311.6 102.7 310.9 104.3 310.3 105.9 309.7 107.6 309.1 109.3 308.6 111 308.1 112.8 307.6 114.6 307.2 116.4 306.8 118.2 306.4 120.1 306.1 122.1 305.7 124 305.4 126 305.2 128.1 304.9 130.1 304.7 132.2 304.5 134.4 304.3 136.5 304.1 138.7 303.9 141 303.8 143.2 303.7 145.5 303.5 147.8 303.4 150.2 303.3 152.6 303.2" fill="none" stroke="#aaa" stroke-width="3.0" stroke-linejoin="round" stroke-linecap="round"/>
<path d="M152.6 303.2 152.7 303.4 152.8 303.7 153 304.2 153.2 304.9 153.5 305.7 153.9 306.6 154.3 307.7 154.7 308.8 155.2 310 155.8 311.3 156.4 312.6 157 314 157.7 315.4 158.5 316.9 159.2 318.4 160.1 319.8 160.9 321.3 161.8 322.8 162.8 324.2 163.7 325.7 164.8 327.1 165.8 328.4 166.9 329.8 168.1 331.1 169.3 332.3 170.5 333.5 171.7 334.7 173 335.8 174.3 336.8 175.7 337.8 177.1 338.7 178.6 339.6 180 340.5 181.6 341.2 183.1 342 184.7 342.7 186.3 343.3 188 343.9 189.7 344.5 191.4 345 193.2 345.5 195 345.9 196.8 346.3 198.7 346.7 200.6 347 202.5 347.4 204.5 347.7 206.5 347.9 208.5 348.2 210.6 348.4 212.7 348.6 214.8 348.8 217 349 219.2 349.2 221.4 349.4 223.7 349.5 226 349.6 228.3 349.8 230.7 349.9 233.1 350" fill="none" stroke="#aaa" stroke-width="3.0" stroke-linejoin="round" stroke-linecap="round"/>
<path d="M72.3 372.7 72.4 372.5 72.5 372.1 72.7 371.6 72.9 370.8 73.2 370 73.6 369 74 368 74.4 366.8 74.9 365.7 75.5 364.5 76.1 363.3 76.7 362 77.4 360.8 78.1 359.6 78.9 358.3 79.7 357.1 80.6 355.9 81.5 354.7 82.4 353.5 83.4 352.4 84.4 351.3 85.5 350.2 86.6 349.1 87.7 348 88.9 347 90.1 346 91.4 345.1 92.7 344.2 94 343.3 95.4 342.4 96.8 341.6 98.2 340.9 99.7 340.2 101.2 339.5 102.7 339 104.3 338.4 105.9 337.9 107.6 337.4 109.3 337 111 336.5 112.8 336.2 114.6 335.8 116.4 335.5 118.2 335.2 120.1 334.9 122.1 334.7 124 334.4 126 334.2 128.1 334 130.1 333.8 132.2 333.7 134.4 333.5 136.5 333.4 138.7 333.3 141 333.2 143.2 333.1 145.5 333 147.8 333 150.2 332.9 152.6 332.8" fill="none" stroke="#aaa" stroke-width="3.0" stroke-linejoin="round" stroke-linecap="round"/>
<path d="M152.6 332.8 152.7 333 152.8 333.2 153 333.7 153.2 334.2 153.5 334.9 153.9 335.6 154.3 336.4 154.7 337.3 155.2 338.2 155.8 339.1 156.4 340.1 157 341 157.7 342 158.5 342.9 159.2 343.8 160.1 344.7 160.9 345.6 161.8 346.5 162.8 347.3 163.7 348.1 164.8 348.8 165.8 349.5 166.9 350.2 168.1 350.8 169.3 351.4 170.5 352 171.7 352.5 173 353 174.3 353.5 175.7 354 177.1 354.4 178.6 354.8 180 355.2 181.6 355.6 183.1 356 184.7 356.3 186.3 356.6 188 357 189.7 357.3 191.4 357.5 193.2 357.8 195 358.1 196.8 358.3 198.7 358.6 200.6 358.8 202.5 359 204.5 359.2 206.5 359.4 208.5 359.6 210.6 359.8 212.7 359.9 214.8 360.1 217 360.3 219.2 360.4 221.4 360.5 223.7 360.7 226 360.8 228.3 360.9 230.7 361 233.1 361.1" fill="none" stroke="#aaa" stroke-width="3.0" stroke-linejoin="round" stroke-linecap="round"/>
<path d="M72.3 372.7 72.4 371.8 72.5 369.6 72.7 366.5 72.9 362.5 73.2 357.8 73.6 352.8 74 347.4 74.4 341.8 74.9 336.2 75.5 330.7 76.1 325.3 76.7 320.2 77.4 315.4 78.1 310.9 78.9 306.7 79.7 302.9 80.6 299.5 81.5 296.4 82.4 293.6 83.4 291.2 84.4 289 85.5 287.1 86.6 285.4 87.7 283.9 88.9 282.5 90.1 281.4 91.4 280.3 92.7 279.4 94 278.5 95.4 277.8 96.8 277.1 98.2 276.5 99.7 275.9 101.2 275.4 102.7 274.9 104.3 274.5 105.9 274.1 107.6 273.7 109.3 273.3 111 273 112.8 272.7 114.6 272.4 116.4 272.2 118.2 271.9 120.1 271.7 122.1 271.5 124 271.3 126 271.1 128.1 271 130.1 270.8 132.2 270.7 134.4 270.6 136.5 270.5 138.7 270.4 141 270.3 143.2 270.2 145.5 270.1 147.8 270.1 150.2 270 152.6 270" fill="none" stroke="#000" stroke-width="1.55" stroke-linejoin="round"/>
<path d="M152.6 270 152.7 270.3 152.8 271.3 153 272.6 153.2 274.3 153.5 276.4 153.9 278.7 154.3 281.1 154.7 283.8 155.2 286.6 155.8 289.4 156.4 292.2 157 295.1 157.7 297.9 158.5 300.7 159.2 303.3 160.1 305.9 160.9 308.4 161.8 310.7 162.8 313 163.7 315.1 164.8 317 165.8 318.9 166.9 320.6 168.1 322.3 169.3 323.8 170.5 325.2 171.7 326.5 173 327.8 174.3 328.9 175.7 330 177.1 331 178.6 332 180 332.9 181.6 333.8 183.1 334.6 184.7 335.3 186.3 336.1 188 336.7 189.7 337.4 191.4 338 193.2 338.6 195 339.2 196.8 339.7 198.7 340.2 200.6 340.7 202.5 341.2 204.5 341.6 206.5 342 208.5 342.4 210.6 342.8 212.7 343.2 214.8 343.5 217 343.8 219.2 344.1 221.4 344.4 223.7 344.7 226 344.9 228.3 345.2 230.7 345.4 233.1 345.6" fill="none" stroke="#000" stroke-width="1.55" stroke-linejoin="round"/>
<path d="M72.3 372.7 72.4 372.1 72.5 370.7 72.7 368.5 72.9 365.8 73.2 362.7 73.6 359.2 74 355.4 74.4 351.4 74.9 347.4 75.5 343.3 76.1 339.2 76.7 335.3 77.4 331.5 78.1 327.9 78.9 324.5 79.7 321.3 80.6 318.3 81.5 315.6 82.4 313.1 83.4 310.8 84.4 308.8 85.5 306.9 86.6 305.3 87.7 303.8 88.9 302.5 90.1 301.3 91.4 300.3 92.7 299.3 94 298.5 95.4 297.8 96.8 297.1 98.2 296.5 99.7 295.9 101.2 295.4 102.7 295 104.3 294.6 105.9 294.2 107.6 293.8 109.3 293.5 111 293.2 112.8 292.9 114.6 292.7 116.4 292.4 118.2 292.2 120.1 292 122.1 291.8 124 291.6 126 291.4 128.1 291.2 130.1 291.1 132.2 291 134.4 290.8 136.5 290.7 138.7 290.6 141 290.5 143.2 290.4 145.5 290.3 147.8 290.2 150.2 290.1 152.6 290.1" fill="none" stroke="#000" stroke-width="1.55" stroke-linejoin="round"/>
<path d="M152.6 290.1 152.7 290.2 152.8 290.7 153 291.3 153.2 292.1 153.5 293.1 153.9 294.3 154.3 295.5 154.7 296.9 155.2 298.4 155.8 300 156.4 301.6 157 303.3 157.7 305.1 158.5 306.8 159.2 308.6 160.1 310.4 160.9 312.2 161.8 314 162.8 315.7 163.7 317.5 164.8 319.2 165.8 320.8 166.9 322.4 168.1 323.9 169.3 325.4 170.5 326.8 171.7 328.2 173 329.5 174.3 330.7 175.7 331.9 177.1 333 178.6 334 180 335 181.6 335.9 183.1 336.8 184.7 337.6 186.3 338.4 188 339.1 189.7 339.7 191.4 340.3 193.2 340.9 195 341.4 196.8 341.9 198.7 342.3 200.6 342.8 202.5 343.2 204.5 343.5 206.5 343.9 208.5 344.2 210.6 344.5 212.7 344.8 214.8 345 217 345.3 219.2 345.5 221.4 345.7 223.7 345.9 226 346.1 228.3 346.3 230.7 346.5 233.1 346.7" fill="none" stroke="#000" stroke-width="1.55" stroke-linejoin="round"/>
<path d="M72.3 372.7 72.4 372.3 72.5 371.3 72.7 369.9 72.9 368.1 73.2 365.9 73.6 363.5 74 361 74.4 358.3 74.9 355.5 75.5 352.7 76.1 349.9 76.7 347.2 77.4 344.5 78.1 341.9 78.9 339.4 79.7 337.1 80.6 334.9 81.5 332.8 82.4 330.8 83.4 329 84.4 327.2 85.5 325.6 86.6 324.1 87.7 322.7 88.9 321.4 90.1 320.2 91.4 319.1 92.7 318 94 317 95.4 316 96.8 315.2 98.2 314.3 99.7 313.6 101.2 312.8 102.7 312.1 104.3 311.5 105.9 310.9 107.6 310.3 109.3 309.8 111 309.3 112.8 308.8 114.6 308.4 116.4 308 118.2 307.6 120.1 307.3 122.1 307 124 306.7 126 306.4 128.1 306.1 130.1 305.9 132.2 305.7 134.4 305.5 136.5 305.3 138.7 305.2 141 305 143.2 304.9 145.5 304.8 147.8 304.7 150.2 304.6 152.6 304.5" fill="none" stroke="#000" stroke-width="1.55" stroke-linejoin="round"/>
<path d="M152.6 304.5 152.7 304.6 152.8 304.9 153 305.5 153.2 306.1 153.5 306.9 153.9 307.9 154.3 308.9 154.7 310 155.2 311.2 155.8 312.5 156.4 313.8 157 315.2 157.7 316.7 158.5 318.1 159.2 319.6 160.1 321.1 160.9 322.5 161.8 324 162.8 325.5 163.7 326.9 164.8 328.3 165.8 329.7 166.9 331 168.1 332.3 169.3 333.5 170.5 334.7 171.7 335.9 173 337 174.3 338 175.7 339 177.1 340 178.6 340.8 180 341.7 181.6 342.5 183.1 343.2 184.7 343.9 186.3 344.5 188 345.1 189.7 345.7 191.4 346.2 193.2 346.7 195 347.1 196.8 347.5 198.7 347.9 200.6 348.3 202.5 348.6 204.5 348.9 206.5 349.2 208.5 349.4 210.6 349.6 212.7 349.9 214.8 350.1 217 350.2 219.2 350.4 221.4 350.6 223.7 350.7 226 350.9 228.3 351 230.7 351.1 233.1 351.2" fill="none" stroke="#000" stroke-width="1.55" stroke-linejoin="round"/>
<path d="M72.3 372.7 72.4 372.5 72.5 372.2 72.7 371.6 72.9 370.9 73.2 370 73.6 369.1 74 368 74.4 366.9 74.9 365.8 75.5 364.6 76.1 363.4 76.7 362.2 77.4 361 78.1 359.8 78.9 358.6 79.7 357.5 80.6 356.3 81.5 355.1 82.4 354 83.4 352.9 84.4 351.8 85.5 350.8 86.6 349.7 87.7 348.7 88.9 347.8 90.1 346.8 91.4 346 92.7 345.1 94 344.3 95.4 343.5 96.8 342.8 98.2 342.1 99.7 341.4 101.2 340.8 102.7 340.2 104.3 339.6 105.9 339.1 107.6 338.6 109.3 338.2 111 337.8 112.8 337.4 114.6 337 116.4 336.7 118.2 336.4 120.1 336.1 122.1 335.9 124 335.6 126 335.4 128.1 335.2 130.1 335.1 132.2 334.9 134.4 334.8 136.5 334.6 138.7 334.5 141 334.4 143.2 334.3 145.5 334.2 147.8 334.2 150.2 334.1 152.6 334.1" fill="none" stroke="#000" stroke-width="1.55" stroke-linejoin="round"/>
<path d="M152.6 334.1 152.7 334.2 152.8 334.5 153 334.9 153.2 335.4 153.5 336.1 153.9 336.8 154.3 337.6 154.7 338.5 155.2 339.4 155.8 340.3 156.4 341.3 157 342.2 157.7 343.2 158.5 344.1 159.2 345.1 160.1 346 160.9 346.8 161.8 347.7 162.8 348.5 163.7 349.3 164.8 350 165.8 350.7 166.9 351.4 168.1 352 169.3 352.6 170.5 353.2 171.7 353.7 173 354.2 174.3 354.7 175.7 355.2 177.1 355.6 178.6 356 180 356.4 181.6 356.8 183.1 357.2 184.7 357.5 186.3 357.9 188 358.2 189.7 358.5 191.4 358.8 193.2 359 195 359.3 196.8 359.5 198.7 359.8 200.6 360 202.5 360.2 204.5 360.4 206.5 360.6 208.5 360.8 210.6 361 212.7 361.2 214.8 361.3 217 361.5 219.2 361.6 221.4 361.8 223.7 361.9 226 362 228.3 362.1 230.7 362.2 233.1 362.3" fill="none" stroke="#000" stroke-width="1.55" stroke-linejoin="round"/>
<line x1="152.6" y1="266" x2="152.6" y2="372.7" stroke="#000" stroke-width="1.4"/>
<line x1="72.3" y1="266" x2="72.3" y2="372.7" stroke="#000" stroke-width="1.4"/>
<line x1="67.5" y1="372.7" x2="72.3" y2="372.7" stroke="#000" stroke-width="1.4"/>
<text transform="translate(63 377.5) scale(1.09 1)" font-size="11.3" text-anchor="end">0.0</text>
<line x1="67.5" y1="342.2" x2="72.3" y2="342.2" stroke="#000" stroke-width="1.4"/>
<text transform="translate(63 347) scale(1.09 1)" font-size="11.3" text-anchor="end">0.1</text>
<line x1="67.5" y1="311.7" x2="72.3" y2="311.7" stroke="#000" stroke-width="1.4"/>
<text transform="translate(63 316.5) scale(1.09 1)" font-size="11.3" text-anchor="end">0.2</text>
<line x1="67.5" y1="281.2" x2="72.3" y2="281.2" stroke="#000" stroke-width="1.4"/>
<text transform="translate(63 286.1) scale(1.09 1)" font-size="11.3" text-anchor="end">0.3</text>
<line x1="67.5" y1="372.7" x2="237" y2="372.7" stroke="#000" stroke-width="1.4"/>
<line x1="152.6" y1="372.7" x2="152.6" y2="377.3" stroke="#000" stroke-width="1.4"/>
<text transform="translate(152.6 392.8) scale(1.09 1)" font-size="11.3" text-anchor="middle">600</text>
<line x1="233.1" y1="372.7" x2="233.1" y2="377.3" stroke="#000" stroke-width="1.4"/>
<text transform="translate(233.1 392.8) scale(1.09 1)" font-size="11.3" text-anchor="middle">1200</text>
<line x1="72.3" y1="372.7" x2="72.3" y2="377.3" stroke="#000" stroke-width="1.4"/>
<text transform="translate(72.3 392.8) scale(1.09 1)" font-size="11.3" text-anchor="middle">0</text>
<text x="78.2" y="270.8" font-size="11.5">30 nM</text>
<text x="110" y="286.4" font-size="11.5">15 nM</text>
<text x="105.8" y="304.8" font-size="11.5">7.5 nM</text>
<text x="109.8" y="330" font-size="11.5">3.8 nM</text>
<text transform="translate(155 413.2) scale(0.93 1)" font-size="14" text-anchor="middle">Time, s</text>
<text transform="translate(38.1 319.2) rotate(-90) scale(0.83 1)" font-size="15.5" text-anchor="middle">Response, nm</text>
<text x="271" y="240" font-size="18" font-weight="bold" style="stroke-width:0.12px">D</text>
<text x="415.8" y="233.6" font-size="14.7" font-weight="bold" style="stroke-width:0.12px" text-anchor="middle">factor Xa</text>
<line x1="384.9" y1="235.6" x2="446.8" y2="235.6" stroke="#000" stroke-width="1.2"/>
<text x="415.8" y="253.6" font-size="14.7" font-weight="bold" style="stroke-width:0.12px" text-anchor="middle">plus 10 nM factor Va</text>
<path d="M332.9 373 333 370.4 333.1 364.4 333.3 356.4 333.5 347.6 333.8 339.1 334.2 331.3 334.6 324.7 335 319.3 335.5 315 336.1 311.7 336.7 309 337.3 306.9 338 305.1 338.8 303.6 339.5 302.2 340.4 300.9 341.2 299.6 342.1 298.1 343.1 296.7 344 295.3 345.1 293.9 346.1 292.6 347.2 291.4 348.4 290.2 349.6 289 350.8 287.9 352 286.8 353.3 285.8 354.6 284.9 356 283.9 357.4 283.1 358.9 282.2 360.3 281.4 361.9 280.7 363.4 280 365 279.3 366.6 278.7 368.3 278 370 277.4 371.7 276.9 373.5 276.3 375.3 275.8 377.1 275.2 379 274.7 380.9 274.2 382.8 273.7 384.8 273.3 386.8 272.8 388.8 272.3 390.9 271.9 393 271.4 395.1 270.9 397.3 270.5 399.5 270 401.7 269.5 404 269.1 406.3 268.6 408.6 268.1 411 267.7 413.4 267.2" fill="none" stroke="#b0b0b0" stroke-width="3.6" stroke-linejoin="round" stroke-linecap="round"/>
<path d="M413.4 270.7 413.5 270.7 413.6 270.9 413.8 271.2 414 271.5 414.3 271.9 414.7 272.3 415.1 272.8 415.6 273.3 416.1 273.8 416.6 274.3 417.2 274.7 417.9 275.2 418.6 275.7 419.3 276.1 420.1 276.6 420.9 277 421.8 277.4 422.7 277.7 423.6 278.1 424.6 278.4 425.7 278.8 426.7 279.1 427.9 279.3 429 279.6 430.2 279.9 431.4 280.2 432.7 280.4 434 280.7 435.3 280.9 436.7 281.1 438.1 281.4 439.6 281.6 441.1 281.8 442.6 282 444.2 282.3 445.8 282.5 447.4 282.7 449.1 282.9 450.8 283.1 452.5 283.3 454.3 283.5 456.1 283.6 458 283.8 459.9 284 461.8 284.2 463.7 284.3 465.7 284.5 467.7 284.7 469.8 284.8 471.9 285 474 285.1 476.2 285.2 478.4 285.4 480.6 285.5 482.8 285.6 485.1 285.7 487.4 285.8 489.8 285.9 492.2 286 494.6 286.1" fill="none" stroke="#b0b0b0" stroke-width="3.6" stroke-linejoin="round" stroke-linecap="round"/>
<path d="M332.9 373 333 371.5 333.1 368 333.3 363 333.5 357 333.8 350.5 334.2 343.9 334.6 337.4 335 331.3 335.5 325.8 336.1 321 336.7 316.8 337.3 313.2 338 310.3 338.8 307.9 339.5 305.9 340.4 304.2 341.2 302.8 342.1 301.4 343.1 300.2 344 299 345.1 298 346.1 297 347.2 296.1 348.4 295.2 349.6 294.4 350.8 293.5 352 292.7 353.3 291.9 354.6 291.2 356 290.4 357.4 289.7 358.9 289 360.3 288.3 361.9 287.6 363.4 287 365 286.4 366.6 285.8 368.3 285.2 370 284.6 371.7 284.1 373.5 283.6 375.3 283.1 377.1 282.7 379 282.2 380.9 281.8 382.8 281.4 384.8 281 386.8 280.6 388.8 280.2 390.9 279.9 393 279.6 395.1 279.2 397.3 278.9 399.5 278.6 401.7 278.4 404 278.1 406.3 277.8 408.6 277.6 411 277.3 413.4 277.1" fill="none" stroke="#b0b0b0" stroke-width="3.6" stroke-linejoin="round" stroke-linecap="round"/>
<path d="M413.4 280.3 413.5 280.3 413.6 280.3 413.8 280.4 414 280.4 414.3 280.5 414.7 280.6 415.1 280.7 415.6 280.8 416.1 280.9 416.6 281.1 417.2 281.2 417.9 281.4 418.6 281.5 419.3 281.7 420.1 281.9 420.9 282 421.8 282.2 422.7 282.4 423.6 282.6 424.6 282.8 425.7 283 426.7 283.2 427.9 283.4 429 283.6 430.2 283.8 431.4 284.1 432.7 284.3 434 284.5 435.3 284.7 436.7 284.9 438.1 285.1 439.6 285.3 441.1 285.5 442.6 285.8 444.2 286 445.8 286.2 447.4 286.4 449.1 286.6 450.8 286.7 452.5 286.9 454.3 287.1 456.1 287.3 458 287.5 459.9 287.7 461.8 287.8 463.7 288 465.7 288.2 467.7 288.3 469.8 288.5 471.9 288.6 474 288.8 476.2 288.9 478.4 289 480.6 289.2 482.8 289.3 485.1 289.4 487.4 289.5 489.8 289.6 492.2 289.7 494.6 289.9" fill="none" stroke="#b0b0b0" stroke-width="3.6" stroke-linejoin="round" stroke-linecap="round"/>
<path d="M332.9 373 333 372.4 333.1 370.9 333.3 368.8 333.5 366.1 333.8 362.9 334.2 359.4 334.6 355.6 335 351.6 335.5 347.5 336.1 343.4 336.7 339.4 337.3 335.5 338 331.7 338.8 328.2 339.5 324.8 340.4 321.7 341.2 318.8 342.1 315.9 343.1 313.3 344 311 345.1 308.8 346.1 306.9 347.2 305.3 348.4 303.8 349.6 302.5 350.8 301.3 352 300.3 353.3 299.4 354.6 298.6 356 297.9 357.4 297.3 358.9 296.8 360.3 296.3 361.9 295.9 363.4 295.5 365 295.1 366.6 294.7 368.3 294.4 370 294.1 371.7 293.8 373.5 293.5 375.3 293.2 377.1 292.9 379 292.6 380.9 292.3 382.8 292 384.8 291.7 386.8 291.4 388.8 291.1 390.9 290.7 393 290.4 395.1 290.1 397.3 289.8 399.5 289.5 401.7 289.1 404 288.8 406.3 288.5 408.6 288.1 411 287.8 413.4 287.4" fill="none" stroke="#b0b0b0" stroke-width="3.6" stroke-linejoin="round" stroke-linecap="round"/>
<path d="M413.4 287.4 413.5 287.4 413.6 287.4 413.8 287.5 414 287.6 414.3 287.7 414.7 287.8 415.1 287.9 415.6 288 416.1 288.2 416.6 288.3 417.2 288.5 417.9 288.6 418.6 288.8 419.3 289 420.1 289.2 420.9 289.3 421.8 289.5 422.7 289.7 423.6 289.9 424.6 290.1 425.7 290.3 426.7 290.5 427.9 290.7 429 290.8 430.2 291 431.4 291.2 432.7 291.4 434 291.6 435.3 291.7 436.7 291.9 438.1 292.1 439.6 292.2 441.1 292.4 442.6 292.5 444.2 292.7 445.8 292.9 447.4 293 449.1 293.1 450.8 293.3 452.5 293.4 454.3 293.6 456.1 293.7 458 293.8 459.9 294 461.8 294.1 463.7 294.2 465.7 294.3 467.7 294.5 469.8 294.6 471.9 294.7 474 294.8 476.2 294.9 478.4 295 480.6 295.2 482.8 295.3 485.1 295.4 487.4 295.5 489.8 295.6 492.2 295.7 494.6 295.8" fill="none" stroke="#b0b0b0" stroke-width="3.6" stroke-linejoin="round" stroke-linecap="round"/>
<path d="M332.9 373 333 372.7 333.1 372 333.3 371 333.5 369.7 333.8 368.1 334.2 366.3 334.6 364.3 335 362.2 335.5 359.9 336.1 357.5 336.7 355 337.3 352.5 338 349.9 338.8 347.4 339.5 344.8 340.4 342.3 341.2 339.7 342.1 337 343.1 334.3 344 331.7 345.1 329.2 346.1 326.8 347.2 324.6 348.4 322.4 349.6 320.3 350.8 318.3 352 316.5 353.3 314.7 354.6 313.1 356 311.6 357.4 310.2 358.9 308.8 360.3 307.6 361.9 306.5 363.4 305.4 365 304.4 366.6 303.5 368.3 302.7 370 301.9 371.7 301.2 373.5 300.5 375.3 299.9 377.1 299.3 379 298.8 380.9 298.3 382.8 297.8 384.8 297.3 386.8 296.9 388.8 296.5 390.9 296.1 393 295.7 395.1 295.4 397.3 295 399.5 294.7 401.7 294.3 404 294 406.3 293.7 408.6 293.4 411 293 413.4 292.7" fill="none" stroke="#b0b0b0" stroke-width="3.6" stroke-linejoin="round" stroke-linecap="round"/>
<path d="M413.4 292.8 413.5 292.8 413.6 292.8 413.8 292.9 414 293 414.3 293 414.7 293.1 415.1 293.2 415.6 293.3 416.1 293.4 416.6 293.5 417.2 293.6 417.9 293.8 418.6 293.9 419.3 294 420.1 294.2 420.9 294.3 421.8 294.5 422.7 294.6 423.6 294.8 424.6 294.9 425.7 295.1 426.7 295.2 427.9 295.3 429 295.5 430.2 295.6 431.4 295.8 432.7 295.9 434 296 435.3 296.2 436.7 296.3 438.1 296.4 439.6 296.5 441.1 296.7 442.6 296.8 444.2 296.9 445.8 297 447.4 297.2 449.1 297.3 450.8 297.4 452.5 297.5 454.3 297.6 456.1 297.7 458 297.8 459.9 297.9 461.8 298 463.7 298.2 465.7 298.3 467.7 298.4 469.8 298.5 471.9 298.6 474 298.7 476.2 298.8 478.4 298.9 480.6 299 482.8 299.1 485.1 299.2 487.4 299.3 489.8 299.5 492.2 299.6 494.6 299.7" fill="none" stroke="#b0b0b0" stroke-width="3.6" stroke-linejoin="round" stroke-linecap="round"/>
<path d="M332.9 373 333 372.9 333.1 372.6 333.3 372.1 333.5 371.5 333.8 370.7 334.2 369.9 334.6 368.9 335 367.9 335.5 366.7 336.1 365.5 336.7 364.2 337.3 362.8 338 361.3 338.8 359.9 339.5 358.3 340.4 356.8 341.2 355.1 342.1 353.2 343.1 351.2 344 349.3 345.1 347.3 346.1 345.3 347.2 343.4 348.4 341.4 349.6 339.5 350.8 337.5 352 335.6 353.3 333.7 354.6 331.9 356 330.1 357.4 328.3 358.9 326.6 360.3 324.9 361.9 323.3 363.4 321.7 365 320.1 366.6 318.6 368.3 317.2 370 315.8 371.7 314.5 373.5 313.2 375.3 311.9 377.1 310.8 379 309.6 380.9 308.6 382.8 307.5 384.8 306.5 386.8 305.6 388.8 304.7 390.9 303.9 393 303.1 395.1 302.3 397.3 301.6 399.5 300.9 401.7 300.3 404 299.7 406.3 299.1 408.6 298.6 411 298 413.4 297.6" fill="none" stroke="#b0b0b0" stroke-width="3.6" stroke-linejoin="round" stroke-linecap="round"/>
<path d="M413.4 297.5 413.5 297.5 413.6 297.5 413.8 297.5 414 297.6 414.3 297.6 414.7 297.7 415.1 297.8 415.6 297.8 416.1 297.9 416.6 298 417.2 298.1 417.9 298.2 418.6 298.3 419.3 298.4 420.1 298.5 420.9 298.6 421.8 298.7 422.7 298.8 423.6 298.9 424.6 299 425.7 299.1 426.7 299.2 427.9 299.3 429 299.4 430.2 299.5 431.4 299.6 432.7 299.7 434 299.8 435.3 299.9 436.7 300 438.1 300.1 439.6 300.2 441.1 300.3 442.6 300.4 444.2 300.5 445.8 300.6 447.4 300.7 449.1 300.8 450.8 300.8 452.5 300.9 454.3 301 456.1 301.1 458 301.2 459.9 301.3 461.8 301.4 463.7 301.4 465.7 301.5 467.7 301.6 469.8 301.7 471.9 301.8 474 301.9 476.2 301.9 478.4 302 480.6 302.1 482.8 302.2 485.1 302.3 487.4 302.4 489.8 302.5 492.2 302.5 494.6 302.6" fill="none" stroke="#b0b0b0" stroke-width="3.6" stroke-linejoin="round" stroke-linecap="round"/>
<path d="M332.9 373 333 370.4 333.1 364.3 333.3 356.3 333.5 347.4 333.8 338.7 334.2 330.9 334.6 324.1 335 318.5 335.5 314.1 336.1 310.5 336.7 307.7 337.3 305.4 338 303.3 338.8 301.6 339.5 299.9 340.4 298.4 341.2 296.9 342.1 295.4 343.1 294 344 292.6 345.1 291.3 346.1 290 347.2 288.8 348.4 287.6 349.6 286.5 350.8 285.4 352 284.4 353.3 283.4 354.6 282.5 356 281.6 357.4 280.7 358.9 280 360.3 279.2 361.9 278.5 363.4 277.8 365 277.2 366.6 276.6 368.3 276 370 275.4 371.7 274.9 373.5 274.4 375.3 273.9 377.1 273.4 379 273 380.9 272.5 382.8 272.1 384.8 271.6 386.8 271.2 388.8 270.8 390.9 270.4 393 270 395.1 269.6 397.3 269.2 399.5 268.8 401.7 268.4 404 267.9 406.3 267.5 408.6 267.1 411 266.7 413.4 266.3" fill="none" stroke="#000" stroke-width="1.55" stroke-linejoin="round"/>
<path d="M413.4 269.7 413.5 269.8 413.6 269.9 413.8 270.2 414 270.5 414.3 270.9 414.7 271.3 415.1 271.8 415.6 272.3 416.1 272.8 416.6 273.3 417.2 273.8 417.9 274.2 418.6 274.7 419.3 275.2 420.1 275.6 420.9 276 421.8 276.4 422.7 276.8 423.6 277.1 424.6 277.4 425.7 277.8 426.7 278.1 427.9 278.4 429 278.6 430.2 278.9 431.4 279.2 432.7 279.4 434 279.7 435.3 279.9 436.7 280.2 438.1 280.4 439.6 280.6 441.1 280.8 442.6 281.1 444.2 281.3 445.8 281.5 447.4 281.7 449.1 281.9 450.8 282.1 452.5 282.3 454.3 282.5 456.1 282.7 458 282.8 459.9 283 461.8 283.2 463.7 283.4 465.7 283.5 467.7 283.7 469.8 283.8 471.9 284 474 284.1 476.2 284.2 478.4 284.4 480.6 284.5 482.8 284.6 485.1 284.7 487.4 284.9 489.8 285 492.2 285.1 494.6 285.2" fill="none" stroke="#000" stroke-width="1.55" stroke-linejoin="round"/>
<path d="M332.9 373 333 371.5 333.1 367.9 333.3 362.8 333.5 356.8 333.8 350.2 334.2 343.4 334.6 336.8 335 330.6 335.5 324.9 336.1 319.9 336.7 315.5 337.3 311.8 338 308.6 338.8 306 339.5 303.8 340.4 301.9 341.2 300.3 342.1 299 343.1 297.8 344 296.7 345.1 295.8 346.1 294.9 347.2 294 348.4 293.2 349.6 292.4 350.8 291.6 352 290.9 353.3 290.2 354.6 289.5 356 288.8 357.4 288.2 358.9 287.5 360.3 286.9 361.9 286.4 363.4 285.8 365 285.3 366.6 284.8 368.3 284.3 370 283.9 371.7 283.4 373.5 283 375.3 282.7 377.1 282.3 379 282 380.9 281.6 382.8 281.3 384.8 281.1 386.8 280.8 388.8 280.6 390.9 280.3 393 280.1 395.1 279.9 397.3 279.8 399.5 279.6 401.7 279.4 404 279.3 406.3 279.2 408.6 279.1 411 279 413.4 278.9" fill="none" stroke="#000" stroke-width="1.55" stroke-linejoin="round"/>
<path d="M413.4 279.3 413.5 279.3 413.6 279.3 413.8 279.4 414 279.4 414.3 279.5 414.7 279.6 415.1 279.7 415.6 279.8 416.1 279.9 416.6 280.1 417.2 280.2 417.9 280.4 418.6 280.5 419.3 280.7 420.1 280.9 420.9 281 421.8 281.2 422.7 281.4 423.6 281.6 424.6 281.8 425.7 282 426.7 282.2 427.9 282.4 429 282.6 430.2 282.9 431.4 283.1 432.7 283.3 434 283.5 435.3 283.7 436.7 283.9 438.1 284.1 439.6 284.4 441.1 284.6 442.6 284.8 444.2 285 445.8 285.2 447.4 285.4 449.1 285.6 450.8 285.8 452.5 286 454.3 286.1 456.1 286.3 458 286.5 459.9 286.7 461.8 286.8 463.7 287 465.7 287.2 467.7 287.3 469.8 287.5 471.9 287.6 474 287.8 476.2 287.9 478.4 288.1 480.6 288.2 482.8 288.3 485.1 288.4 487.4 288.5 489.8 288.7 492.2 288.8 494.6 288.9" fill="none" stroke="#000" stroke-width="1.55" stroke-linejoin="round"/>
<path d="M332.9 373 333 372.4 333.1 370.9 333.3 368.7 333.5 365.9 333.8 362.6 334.2 358.9 334.6 355 335 350.8 335.5 346.6 336.1 342.3 336.7 338.1 337.3 333.9 338 329.9 338.8 326.1 339.5 322.5 340.4 319.2 341.2 316.1 342.1 313.2 343.1 310.6 344 308.3 345.1 306.2 346.1 304.3 347.2 302.7 348.4 301.2 349.6 299.9 350.8 298.8 352 297.8 353.3 297 354.6 296.2 356 295.6 357.4 295 358.9 294.5 360.3 294.1 361.9 293.7 363.4 293.3 365 293 366.6 292.6 368.3 292.4 370 292.1 371.7 291.8 373.5 291.5 375.3 291.3 377.1 291 379 290.8 380.9 290.5 382.8 290.3 384.8 290 386.8 289.8 388.8 289.5 390.9 289.3 393 289 395.1 288.8 397.3 288.5 399.5 288.2 401.7 287.9 404 287.7 406.3 287.4 408.6 287.1 411 286.8 413.4 286.5" fill="none" stroke="#000" stroke-width="1.55" stroke-linejoin="round"/>
<path d="M413.4 286.4 413.5 286.4 413.6 286.5 413.8 286.5 414 286.6 414.3 286.7 414.7 286.8 415.1 286.9 415.6 287 416.1 287.2 416.6 287.3 417.2 287.5 417.9 287.7 418.6 287.8 419.3 288 420.1 288.2 420.9 288.4 421.8 288.5 422.7 288.7 423.6 288.9 424.6 289.1 425.7 289.3 426.7 289.5 427.9 289.7 429 289.9 430.2 290 431.4 290.2 432.7 290.4 434 290.6 435.3 290.7 436.7 290.9 438.1 291.1 439.6 291.2 441.1 291.4 442.6 291.6 444.2 291.7 445.8 291.9 447.4 292 449.1 292.2 450.8 292.3 452.5 292.5 454.3 292.6 456.1 292.7 458 292.9 459.9 293 461.8 293.1 463.7 293.2 465.7 293.4 467.7 293.5 469.8 293.6 471.9 293.7 474 293.8 476.2 294 478.4 294.1 480.6 294.2 482.8 294.3 485.1 294.4 487.4 294.5 489.8 294.6 492.2 294.7 494.6 294.8" fill="none" stroke="#000" stroke-width="1.55" stroke-linejoin="round"/>
<path d="M332.9 373 333 372.7 333.1 372 333.3 370.9 333.5 369.5 333.8 367.8 334.2 365.9 334.6 363.7 335 361.4 335.5 359 336.1 356.4 336.7 353.7 337.3 350.9 338 348.1 338.8 345.3 339.5 342.5 340.4 339.7 341.2 337 342.1 334.3 343.1 331.6 344 329.1 345.1 326.6 346.1 324.2 347.2 322 348.4 319.8 349.6 317.8 350.8 315.8 352 314 353.3 312.3 354.6 310.7 356 309.2 357.4 307.8 358.9 306.6 360.3 305.4 361.9 304.3 363.4 303.2 365 302.3 366.6 301.4 368.3 300.6 370 299.9 371.7 299.2 373.5 298.6 375.3 298 377.1 297.5 379 297 380.9 296.6 382.8 296.1 384.8 295.7 386.8 295.3 388.8 295 390.9 294.7 393 294.3 395.1 294 397.3 293.7 399.5 293.4 401.7 293.2 404 292.9 406.3 292.6 408.6 292.4 411 292.1 413.4 291.8" fill="none" stroke="#000" stroke-width="1.55" stroke-linejoin="round"/>
<path d="M413.4 291.8 413.5 291.8 413.6 291.9 413.8 291.9 414 292 414.3 292 414.7 292.1 415.1 292.2 415.6 292.3 416.1 292.4 416.6 292.5 417.2 292.7 417.9 292.8 418.6 292.9 419.3 293.1 420.1 293.2 420.9 293.3 421.8 293.5 422.7 293.6 423.6 293.8 424.6 293.9 425.7 294.1 426.7 294.2 427.9 294.4 429 294.5 430.2 294.6 431.4 294.8 432.7 294.9 434 295 435.3 295.2 436.7 295.3 438.1 295.4 439.6 295.6 441.1 295.7 442.6 295.8 444.2 295.9 445.8 296.1 447.4 296.2 449.1 296.3 450.8 296.4 452.5 296.5 454.3 296.6 456.1 296.7 458 296.8 459.9 296.9 461.8 297.1 463.7 297.2 465.7 297.3 467.7 297.4 469.8 297.5 471.9 297.6 474 297.7 476.2 297.8 478.4 297.9 480.6 298 482.8 298.1 485.1 298.3 487.4 298.4 489.8 298.5 492.2 298.6 494.6 298.7" fill="none" stroke="#000" stroke-width="1.55" stroke-linejoin="round"/>
<path d="M332.9 373 333 372.9 333.1 372.5 333.3 372 333.5 371.3 333.8 370.4 334.2 369.4 334.6 368.3 335 367.1 335.5 365.8 336.1 364.3 336.7 362.8 337.3 361.2 338 359.5 338.8 357.8 339.5 356 340.4 354.2 341.2 352.3 342.1 350.5 343.1 348.5 344 346.6 345.1 344.7 346.1 342.7 347.2 340.8 348.4 338.8 349.6 336.9 350.8 335 352 333.2 353.3 331.3 354.6 329.5 356 327.7 357.4 326 358.9 324.3 360.3 322.7 361.9 321.1 363.4 319.5 365 318 366.6 316.6 368.3 315.2 370 313.8 371.7 312.5 373.5 311.3 375.3 310.1 377.1 308.9 379 307.9 380.9 306.8 382.8 305.8 384.8 304.9 386.8 304 388.8 303.2 390.9 302.4 393 301.7 395.1 301 397.3 300.3 399.5 299.7 401.7 299.1 404 298.5 406.3 298 408.6 297.5 411 297.1 413.4 296.7" fill="none" stroke="#000" stroke-width="1.55" stroke-linejoin="round"/>
<path d="M413.4 296.5 413.5 296.5 413.6 296.5 413.8 296.6 414 296.6 414.3 296.7 414.7 296.7 415.1 296.8 415.6 296.8 416.1 296.9 416.6 297 417.2 297.1 417.9 297.2 418.6 297.3 419.3 297.4 420.1 297.5 420.9 297.6 421.8 297.7 422.7 297.8 423.6 297.9 424.6 298 425.7 298.1 426.7 298.2 427.9 298.3 429 298.4 430.2 298.5 431.4 298.6 432.7 298.7 434 298.8 435.3 298.9 436.7 299 438.1 299.1 439.6 299.2 441.1 299.3 442.6 299.4 444.2 299.5 445.8 299.6 447.4 299.7 449.1 299.8 450.8 299.9 452.5 299.9 454.3 300 456.1 300.1 458 300.2 459.9 300.3 461.8 300.4 463.7 300.5 465.7 300.5 467.7 300.6 469.8 300.7 471.9 300.8 474 300.9 476.2 301 478.4 301 480.6 301.1 482.8 301.2 485.1 301.3 487.4 301.4 489.8 301.5 492.2 301.6 494.6 301.7" fill="none" stroke="#000" stroke-width="1.55" stroke-linejoin="round"/>
<line x1="413.4" y1="261.6" x2="413.4" y2="373" stroke="#000" stroke-width="1.4"/>
<line x1="332.9" y1="264.8" x2="332.9" y2="373" stroke="#000" stroke-width="1.4"/>
<line x1="328.1" y1="373" x2="332.9" y2="373" stroke="#000" stroke-width="1.4"/>
<text transform="translate(323.6 377.8) scale(1.09 1)" font-size="11.3" text-anchor="end">0.0</text>
<line x1="328.1" y1="323.8" x2="332.9" y2="323.8" stroke="#000" stroke-width="1.4"/>
<text transform="translate(323.6 328.6) scale(1.09 1)" font-size="11.3" text-anchor="end">0.2</text>
<line x1="328.1" y1="274.6" x2="332.9" y2="274.6" stroke="#000" stroke-width="1.4"/>
<text transform="translate(323.6 279.4) scale(1.09 1)" font-size="11.3" text-anchor="end">0.4</text>
<line x1="328.1" y1="373" x2="499.2" y2="373" stroke="#000" stroke-width="1.4"/>
<line x1="413.4" y1="373" x2="413.4" y2="377.6" stroke="#000" stroke-width="1.4"/>
<text transform="translate(413.4 393.1) scale(1.09 1)" font-size="11.3" text-anchor="middle">600</text>
<line x1="494.6" y1="373" x2="494.6" y2="377.6" stroke="#000" stroke-width="1.4"/>
<text transform="translate(494.6 393.1) scale(1.09 1)" font-size="11.3" text-anchor="middle">1200</text>
<line x1="355.6" y1="292.8" x2="379.7" y2="315.6" stroke="#000" stroke-width="1.5"/>
<line x1="353.5" y1="303.7" x2="377" y2="326.5" stroke="#000" stroke-width="1.5"/>
<line x1="355.4" y1="316.7" x2="379.3" y2="339.8" stroke="#000" stroke-width="1.5"/>
<text x="352.6" y="268.9" font-size="11.5">120 nM</text>
<text x="380.6" y="322.9" font-size="11.5">60 nM</text>
<text x="380.6" y="335" font-size="11.5">30 nM</text>
<text x="381.2" y="346.9" font-size="11.5">15 nM</text>
<text x="351.6" y="362.9" font-size="11.5">7.5 nM</text>
<text transform="translate(416.2 413.3) scale(0.93 1)" font-size="14" text-anchor="middle">Time, s</text>
<text transform="translate(298.1 319) rotate(-90) scale(0.83 1)" font-size="15.5" text-anchor="middle">Response, nm</text>
<text x="10.5" y="452.7" font-size="18" font-weight="bold" style="stroke-width:0.12px">E</text>
<text x="153.3" y="473.7" font-size="14.7" font-weight="bold" style="stroke-width:0.12px" text-anchor="middle">factor IXa</text>
<line x1="120" y1="475.8" x2="186.6" y2="475.8" stroke="#000" stroke-width="1.2"/>
<path d="M73.5 586.6 73.5 586.4 73.7 586.1 73.8 585.6 74.1 585.3 74.3 585.2 74.7 585 75 584.8 75.5 584.7 75.9 584.5 76.4 584.4 77 584.3 77.6 584.2 78.2 584 78.9 583.9 79.6 583.7 80.4 583.5 81.2 583.3 82 583.2 82.9 583 83.8 582.9 84.7 582.8 85.7 582.8 86.7 582.7 87.7 582.6 88.8 582.6 89.9 582.6 91.1 582.7 92.3 582.8 93.5 583 94.8 583.2 96.1 583.4 97.4 583.6 98.8 583.8 100.2 584.1 101.6 584.4 103 584.7 104.5 584.9 106.1 585.2 107.6 585.4 109.2 585.7 110.8 585.9 112.5 586.2 114.2 586.4 115.9 586.6 117.6 586.9 119.4 587.1 121.2 587.3 123.1 587.5 125 587.7 126.9 587.9 128.8 588 130.8 588.1 132.8 588.3 134.8 588.6 136.9 589 138.9 589.4 141.1 589.7 143.2 590 145.4 590.3 147.6 590.5" fill="none" stroke="#999" stroke-width="3.2" stroke-linejoin="round" stroke-linecap="round"/>
<path d="M147.6 590.5 147.6 590.5 147.8 590.5 147.9 590.5 148.2 590.5 148.4 590.5 148.8 590.6 149.1 590.6 149.6 590.6 150 590.6 150.5 590.6 151.1 590.7 151.7 590.7 152.3 590.7 153 590.7 153.7 590.8 154.4 590.8 155.2 590.8 156.1 590.8 156.9 590.8 157.8 590.9 158.8 590.9 159.7 590.9 160.7 590.9 161.8 590.9 162.9 590.9 164 590.9 165.1 590.9 166.3 590.9 167.5 591 168.8 591 170.1 591 171.4 591 172.8 591 174.1 591 175.6 591 177 591 178.5 591 180 591 181.6 591 183.2 591 184.8 591 186.4 591 188.1 591 189.8 591 191.6 591 193.3 591 195.2 591 197 591 198.9 591 200.8 591 202.7 591 204.6 591 206.6 591 208.7 591 210.7 591 212.8 591 214.9 591 217 591 219.2 591 221.4 591" fill="none" stroke="#999" stroke-width="3.2" stroke-linejoin="round" stroke-linecap="round"/>
<line x1="73.5" y1="588.7" x2="221.7" y2="588.7" stroke="#000" stroke-width="1.7"/>
<line x1="147.6" y1="486.3" x2="147.6" y2="588.7" stroke="#000" stroke-width="1.5"/>
<line x1="73.5" y1="482" x2="73.5" y2="598.2" stroke="#000" stroke-width="1.4"/>
<line x1="68.7" y1="588.6" x2="73.5" y2="588.6" stroke="#000" stroke-width="1.4"/>
<text transform="translate(64.2 593.4) scale(1.09 1)" font-size="11.3" text-anchor="end">0.0</text>
<line x1="68.7" y1="554.5" x2="73.5" y2="554.5" stroke="#000" stroke-width="1.4"/>
<text transform="translate(64.2 559.3) scale(1.09 1)" font-size="11.3" text-anchor="end">0.1</text>
<line x1="68.7" y1="520.4" x2="73.5" y2="520.4" stroke="#000" stroke-width="1.4"/>
<text transform="translate(64.2 525.2) scale(1.09 1)" font-size="11.3" text-anchor="end">0.2</text>
<line x1="68.7" y1="486.2" x2="73.5" y2="486.2" stroke="#000" stroke-width="1.4"/>
<text transform="translate(64.2 491.1) scale(1.09 1)" font-size="11.3" text-anchor="end">0.3</text>
<line x1="73.5" y1="593.4" x2="234" y2="593.4" stroke="#000" stroke-width="1.4"/>
<line x1="147.6" y1="593.4" x2="147.6" y2="598" stroke="#000" stroke-width="1.4"/>
<text transform="translate(147.6 613.6) scale(1.09 1)" font-size="11.3" text-anchor="middle">600</text>
<line x1="221.4" y1="593.4" x2="221.4" y2="598" stroke="#000" stroke-width="1.4"/>
<text transform="translate(221.4 613.6) scale(1.09 1)" font-size="11.3" text-anchor="middle">1200</text>
<text transform="translate(73.5 613.6) scale(1.09 1)" font-size="11.3" text-anchor="middle">0</text>
<text x="83" y="573.7" font-size="11.5">120 nM</text>
<text transform="translate(153.6 633.4) scale(0.93 1)" font-size="14" text-anchor="middle">Time, s</text>
<text transform="translate(39.4 537.4) rotate(-90) scale(0.83 1)" font-size="15.5" text-anchor="middle">Response, nm</text>
<rect x="0.55" y="0.55" width="518.9" height="645.9" fill="none" stroke="#000" stroke-width="1.3"/>
</svg>
</body></html>
